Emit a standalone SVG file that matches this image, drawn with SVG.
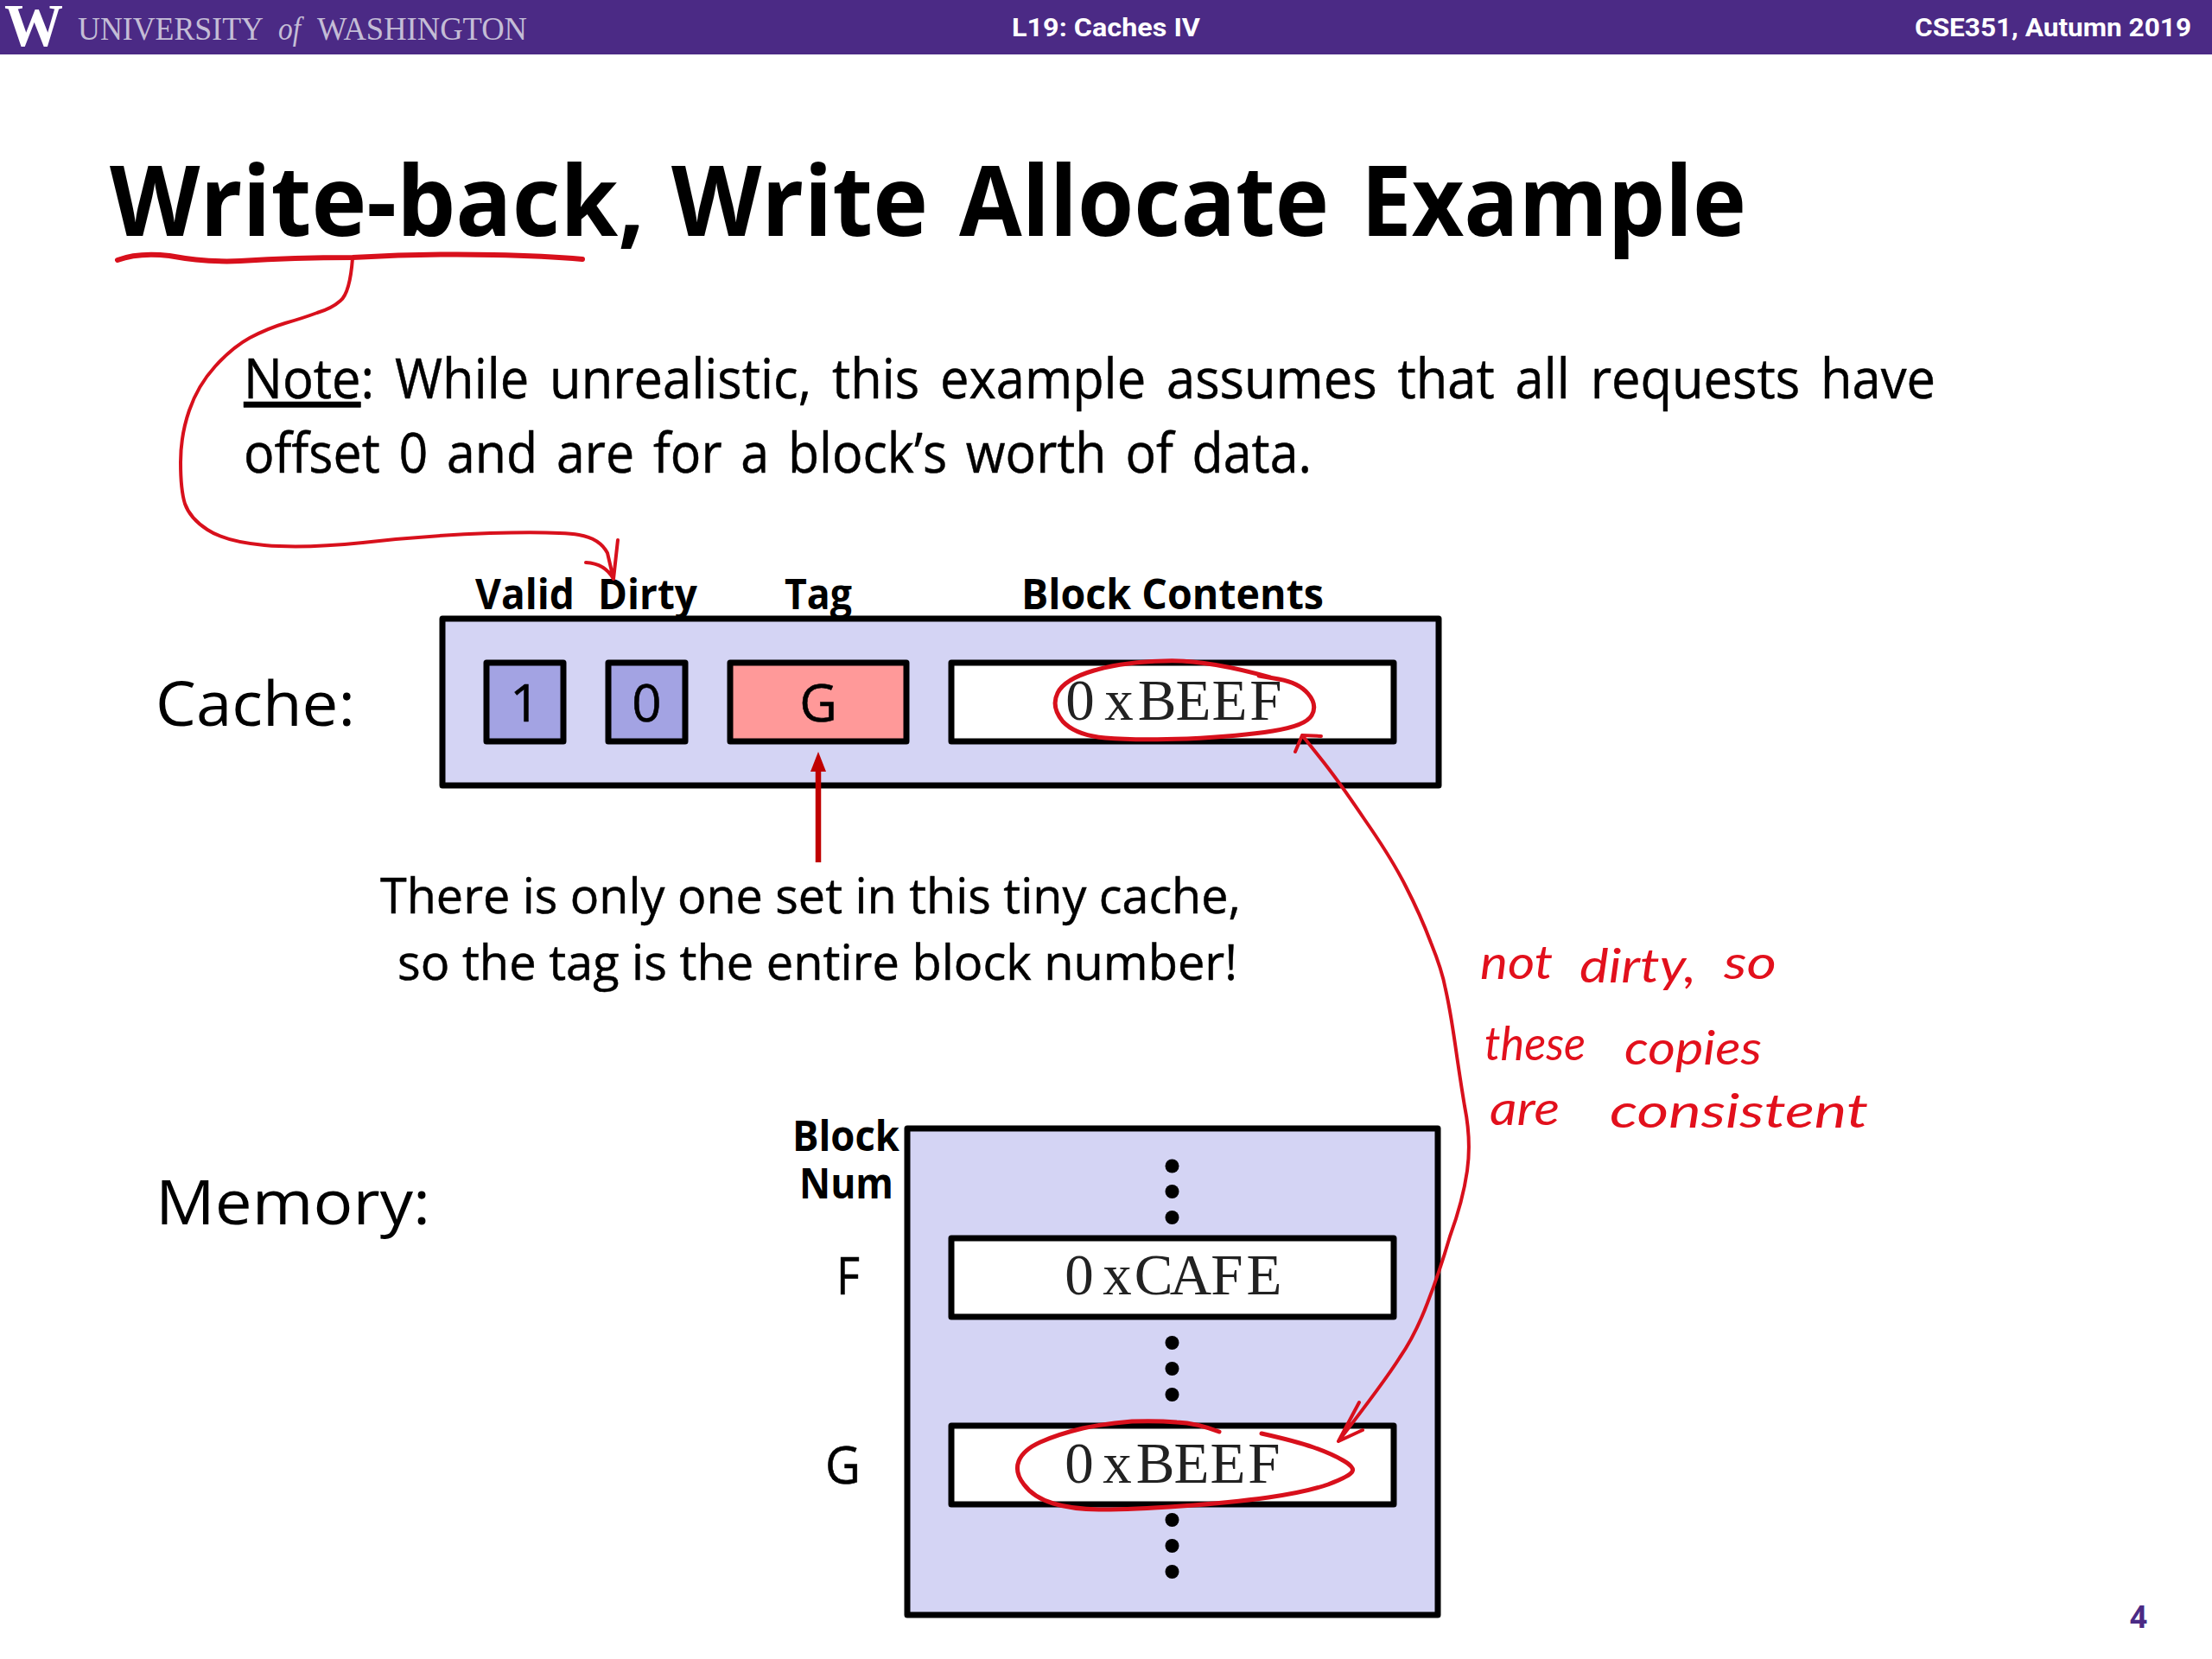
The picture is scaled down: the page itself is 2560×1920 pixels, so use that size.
<svg xmlns="http://www.w3.org/2000/svg" width="2560" height="1920" viewBox="0 0 2560 1920">
<style>
text{font-family:"Open Sans","Noto Sans",sans-serif;fill:#000}
.hdr{font-family:Roboto,"Liberation Sans",sans-serif;font-weight:700;font-size:30px;fill:#fff}
.uw{font-family:"Liberation Serif",serif;font-size:38px;fill:#c4bdd6}
.b{font-weight:700;font-size:48px}
.t{font-size:60px;stroke:#000;stroke-width:.6}
.big{font-size:71px}
.body{font-size:64.500px;stroke:#000;stroke-width:.5}
.cap{font-size:57px;stroke:#000;stroke-width:.5}
.m{font-family:"Liberation Serif","Liberation Mono",serif;font-size:67px;fill:#222;text-anchor:middle}
.hw{font-family:"Lato","Open Sans",sans-serif;font-style:italic;font-size:54px;fill:#e2101c;font-weight:400}
.box{fill:#d4d4f4;stroke:#000;stroke-width:7;stroke-linejoin:round}
.cell{fill:#a3a3e3;stroke:#000;stroke-width:7;stroke-linejoin:round}
.tag{fill:#ff9999;stroke:#000;stroke-width:7;stroke-linejoin:round}
.val{fill:#fff;stroke:#000;stroke-width:7;stroke-linejoin:round}
.ink{fill:none;stroke:#d8101c;stroke-linecap:round;stroke-linejoin:round}
tspan{}
</style>
<rect width="2560" height="1920" fill="#fff"/>
<g id="header">
<rect width="2560" height="63" fill="#4b2a85"/>
<text x="5" y="53" textLength="68" lengthAdjust="spacingAndGlyphs" style="font-family:'Liberation Serif',serif;font-weight:700;font-size:70px;fill:#fff">W</text>
<text class="uw" x="90" y="46" textLength="215" lengthAdjust="spacingAndGlyphs">UNIVERSITY</text>
<text class="uw" x="322" y="46" font-style="italic" textLength="26" lengthAdjust="spacingAndGlyphs">of</text>
<text class="uw" x="367" y="46" textLength="243" lengthAdjust="spacingAndGlyphs">WASHINGTON</text>
<text class="hdr" x="1171" y="42" textLength="218" lengthAdjust="spacingAndGlyphs">L19:  Caches IV</text>
<text class="hdr" x="2216" y="42" textLength="320" lengthAdjust="spacingAndGlyphs">CSE351, Autumn 2019</text>
</g>
<g id="title" font-size="113" font-weight="700">
<text x="127" y="273" textLength="619" lengthAdjust="spacingAndGlyphs">Write-back,</text>
<text x="777" y="273" textLength="297" lengthAdjust="spacingAndGlyphs">Write</text>
<text x="1110" y="273" textLength="428" lengthAdjust="spacingAndGlyphs">Allocate</text>
<text x="1575" y="273" textLength="446" lengthAdjust="spacingAndGlyphs">Example</text>
</g>
<g id="note">
<text class="body" x="282" y="461" textLength="1958" lengthAdjust="spacingAndGlyphs" word-spacing="9"><tspan text-decoration="underline">Note</tspan>: While unrealistic, this example assumes that all requests have</text>
<text class="body" x="282" y="547" textLength="1236" lengthAdjust="spacingAndGlyphs" word-spacing="7">offset 0 and are for a block’s worth of data.</text>
</g>
<g id="cache">
<text class="big" x="180" y="840" textLength="231" lengthAdjust="spacingAndGlyphs">Cache:</text>
<rect class="box" x="512" y="716" width="1153" height="193"/>
<text class="b" x="550" y="705" textLength="115" lengthAdjust="spacingAndGlyphs">Valid</text>
<text class="b" x="692" y="705" textLength="115" lengthAdjust="spacingAndGlyphs">Dirty</text>
<text class="b" x="908" y="705" textLength="78" lengthAdjust="spacingAndGlyphs">Tag</text>
<text class="b" x="1182" y="705" textLength="350" lengthAdjust="spacingAndGlyphs">Block Contents</text>
<g id="cache-valid"><rect class="cell" x="563" y="767" width="89" height="91"/><text class="t" x="607.500" y="835" text-anchor="middle">1</text></g>
<g id="cache-dirty"><rect class="cell" x="704" y="767" width="89" height="91"/><text class="t" x="748.500" y="835" text-anchor="middle">0</text></g>
<g id="cache-tag"><rect class="tag" x="845" y="767" width="204" height="91"/><text class="t" x="947" y="835" text-anchor="middle">G</text></g>
<g id="cache-block"><rect class="val" x="1101" y="767" width="512" height="91"/><text class="m" x="1250 1295 1339 1381 1423 1465" y="833">0xBEEF</text></g>
</g>
<g id="tag-note">
<text class="cap" x="440" y="1057" textLength="996" lengthAdjust="spacingAndGlyphs">There is only one set in this tiny cache,</text>
<text class="cap" x="460" y="1134" textLength="972" lengthAdjust="spacingAndGlyphs">so the tag is the entire block number!</text>
</g>
<g id="memory">
<text class="big" x="180" y="1417" textLength="318" lengthAdjust="spacingAndGlyphs">Memory:</text>
<text class="b" x="917" y="1332" textLength="124" lengthAdjust="spacingAndGlyphs">Block</text>
<text class="b" x="925" y="1387" textLength="109" lengthAdjust="spacingAndGlyphs">Num</text>
<rect class="box" x="1050" y="1306" width="614" height="563"/>
<g fill="#000">
<circle cx="1356.500" cy="1349.500" r="8"/><circle cx="1356.500" cy="1379" r="8"/><circle cx="1356.500" cy="1409" r="8"/>
<circle cx="1356.500" cy="1554" r="8"/><circle cx="1356.500" cy="1584" r="8"/><circle cx="1356.500" cy="1614" r="8"/>
<circle cx="1356.500" cy="1759" r="8"/><circle cx="1356.500" cy="1789" r="8"/><circle cx="1356.500" cy="1819" r="8"/>
</g>
<g id="mem-f"><text class="t" x="968" y="1498" textLength="27" lengthAdjust="spacingAndGlyphs">F</text><rect class="val" x="1101" y="1433" width="512" height="91"/><text class="m" x="1249 1293 1335 1378 1420 1463" y="1498">0xCAFE</text></g>
<g id="mem-g"><text class="t" x="955" y="1717" textLength="41" lengthAdjust="spacingAndGlyphs">G</text><rect class="val" x="1101" y="1650" width="512" height="91"/><text class="m" x="1249 1293 1337 1379 1421 1463" y="1716">0xBEEF</text></g>
</g>
<g id="connectors">
<path d="M947 998V885" fill="none" stroke="#c00000" stroke-width="6.500"/>
<path d="M947 870L938 893H956Z" fill="#c00000"/>
<path class="ink" stroke-width="6" d="M136 301Q160 292 196 296Q240 304 278 302Q340 298 408 298Q500 293 571 295Q630 296 674 300"/>
<path class="ink" stroke-width="4" d="M408 299Q405 339 394 348Q384 357 367 362Q351 368 330 374Q310 380 289 391Q269 402 249 424Q229 446 219 475Q209 504 209 535Q209 567 214 583Q220 600 240 613Q261 627 306 631Q351 635 420 628Q490 620 567 617Q645 615 670 619Q694 623 703 640L710 670M715 625L710 670Q700 652 678 651"/>
<path class="ink" stroke-width="5" d="M1470 784Q1395 763 1348 765Q1300 766 1266 776Q1232 786 1224 802Q1216 818 1230 835Q1245 851 1279 854Q1312 857 1374 855Q1436 852 1473 846Q1511 840 1518 828Q1525 816 1514 803Q1503 790 1480 786L1457 782"/>
<path class="ink" stroke-width="4" d="M1507 851L1499 870M1507 851L1529 852M1507 851L1527 876Q1548 902 1579 948Q1611 994 1627 1026Q1644 1059 1656 1091Q1669 1123 1673 1145Q1678 1167 1684 1208Q1690 1250 1695 1280Q1703 1320 1698 1355Q1693 1390 1678 1431Q1666 1472 1652 1508Q1638 1545 1620 1571Q1603 1598 1549 1668M1573 1623L1549 1668L1577 1655"/>
<path class="ink" stroke-width="5" d="M1411 1657Q1385 1647 1362 1646Q1339 1644 1310 1645Q1282 1647 1253 1653Q1224 1660 1204 1669Q1184 1678 1179 1691Q1174 1704 1185 1718Q1196 1733 1219 1740Q1242 1747 1276 1747Q1310 1747 1367 1743Q1425 1739 1468 1733Q1511 1727 1537 1718Q1563 1708 1565 1703Q1568 1698 1554 1690Q1540 1682 1520 1675Q1500 1668 1460 1659"/>
</g>
<g id="handwriting">
<text class="hw" x="1713" y="1133" textLength="84" lengthAdjust="spacingAndGlyphs">not</text>
<text class="hw" x="1828" y="1137" textLength="135" lengthAdjust="spacingAndGlyphs">dirty,</text>
<text class="hw" x="1995" y="1133" textLength="61" lengthAdjust="spacingAndGlyphs">so</text>
<text class="hw" x="1718" y="1227" textLength="117" lengthAdjust="spacingAndGlyphs">these</text>
<text class="hw" x="1880" y="1232" textLength="159" lengthAdjust="spacingAndGlyphs">copies</text>
<text class="hw" x="1724" y="1302" textLength="81" lengthAdjust="spacingAndGlyphs">are</text>
<text class="hw" x="1863" y="1305" textLength="299" lengthAdjust="spacingAndGlyphs">consistent</text>
</g>
<g id="page-number"><text x="2465" y="1884" font-size="36" font-weight="700" style="fill:#4b2a85" textLength="20" lengthAdjust="spacingAndGlyphs">4</text></g>
</svg>
